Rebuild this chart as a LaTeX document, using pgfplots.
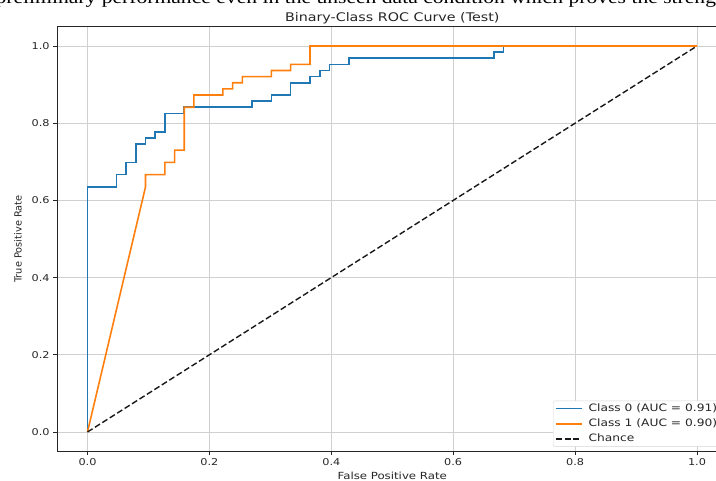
\documentclass[border=0pt]{standalone}
\usepackage{pgfplots}
\pgfplotsset{compat=1.18}
\usepackage{fontspec}
\setmainfont{DejaVu Sans}[FakeStretch=1.2]
\newfontfamily\plainsans{DejaVu Sans}
\newfontfamily\docserif{Liberation Serif}[FakeStretch=1.2]
\definecolor{c0}{HTML}{1F77B4}
\definecolor{c1}{HTML}{FF7F0E}
\definecolor{gridc}{HTML}{D0D0D0}
\definecolor{legc}{HTML}{D6D6D6}
\definecolor{txt}{HTML}{262626}

\pgfplotstableread{
x y
0 0
0 0.6349
0.0476 0.6349
0.0476 0.6667
0.0635 0.6667
0.0635 0.6984
0.0794 0.6984
0.0794 0.7460
0.0952 0.7460
0.0952 0.7619
0.1111 0.7619
0.1111 0.7778
0.1270 0.7778
0.1270 0.8254
0.1587 0.8254
0.1587 0.8413
0.2698 0.8413
0.2698 0.8571
0.3016 0.8571
0.3016 0.8730
0.3333 0.8730
0.3333 0.9048
0.3651 0.9048
0.3651 0.9206
0.3810 0.9206
0.3810 0.9365
0.3968 0.9365
0.3968 0.9524
0.4286 0.9524
0.4286 0.9683
0.6667 0.9683
0.6667 0.9841
0.6825 0.9841
0.6825 1
1 1
}\classzero

\pgfplotstableread{
x y
0 0
0.0952 0.6349
0.0952 0.6667
0.1270 0.6667
0.1270 0.6984
0.1429 0.6984
0.1429 0.7302
0.1587 0.7302
0.1587 0.8413
0.1746 0.8413
0.1746 0.8730
0.2222 0.8730
0.2222 0.8889
0.2381 0.8889
0.2381 0.9048
0.2540 0.9048
0.2540 0.9206
0.3016 0.9206
0.3016 0.9365
0.3333 0.9365
0.3333 0.9524
0.3651 0.9524
0.3651 1
1 1
}\classone

\begin{document}
\begin{tikzpicture}
\path[use as bounding box, clip] (0,0) rectangle (716pt,481pt);
\node[anchor=base east, inner sep=0pt, font=\docserif\fontsize{18}{20}\selectfont] at (733pt,477.3pt) {preliminary performance even in the unseen data condition which proves the strength};
\begin{axis}[
  at={(57pt,29.7pt)}, anchor=south west,
  scale only axis, width=670.5pt, height=424.6pt,
  xmin=-0.05, xmax=1.05, ymin=-0.05, ymax=1.05,
  xtick={0,0.2,0.4,0.6,0.8,1}, ytick={0,0.2,0.4,0.6,0.8,1},
  xtick pos=bottom, ytick pos=left,
  tick align=outside, major tick length=3.8pt,
  tick style={black!85, line width=0.8pt},
  axis line style={black!85, line width=0.9pt},
  grid=major, major grid style={gridc, line width=0.9pt},
  /pgf/number format/assume math mode=true,
  tick label style={font=\fontsize{9.4}{11}\selectfont, text=txt},
  xticklabel style={/pgf/number format/.cd, fixed, fixed zerofill, precision=1},
  yticklabel style={/pgf/number format/.cd, fixed, fixed zerofill, precision=1},
  every axis x label/.style={at={(rel axis cs:0.5,0)}, anchor=base, yshift=-28pt, font=\fontsize{9.8}{11}\selectfont, text=txt},
  every axis y label/.style={at={(rel axis cs:-0.0582,0.5)}, rotate=90, anchor=center, font=\plainsans\fontsize{9.8}{11}\selectfont, text=txt},
  every axis title/.style={at={(rel axis cs:0.5,1.0111)}, anchor=base, font=\fontsize{11.9}{13}\selectfont, text=txt},
  title={Binary-Class ROC Curve (Test)},
  xlabel={False Positive Rate},
  ylabel={True Positive Rate},
  legend style={at={(rel axis cs:0.9905,0.0105)}, anchor=south east, draw=legc, fill=white, rounded corners=2pt, font=\fontsize{10.2}{11}\selectfont, text=txt, row sep=3.2pt, inner sep=1.8pt, nodes={inner ysep=1pt, text height=7.6pt, text depth=2.3pt}},
  legend cell align=left,
  legend image code/.code={\draw[#1] (0pt,0pt) -- (26pt,0pt); \path (30pt,0pt);},
]
\addplot[c0, line width=1.6pt] table[x=x,y=y] {\classzero};
\addlegendentry{Class 0 (AUC = 0.91)}
\addplot[c1, line width=1.6pt] table[x=x,y=y] {\classone};
\addlegendentry{Class 1 (AUC = 0.90)}
\addplot[black!90, line width=1.4pt, dash pattern=on 6pt off 2.8pt] coordinates {(0,0) (1,1)};
\addlegendentry{Chance}
\end{axis}
\end{tikzpicture}
\end{document}
